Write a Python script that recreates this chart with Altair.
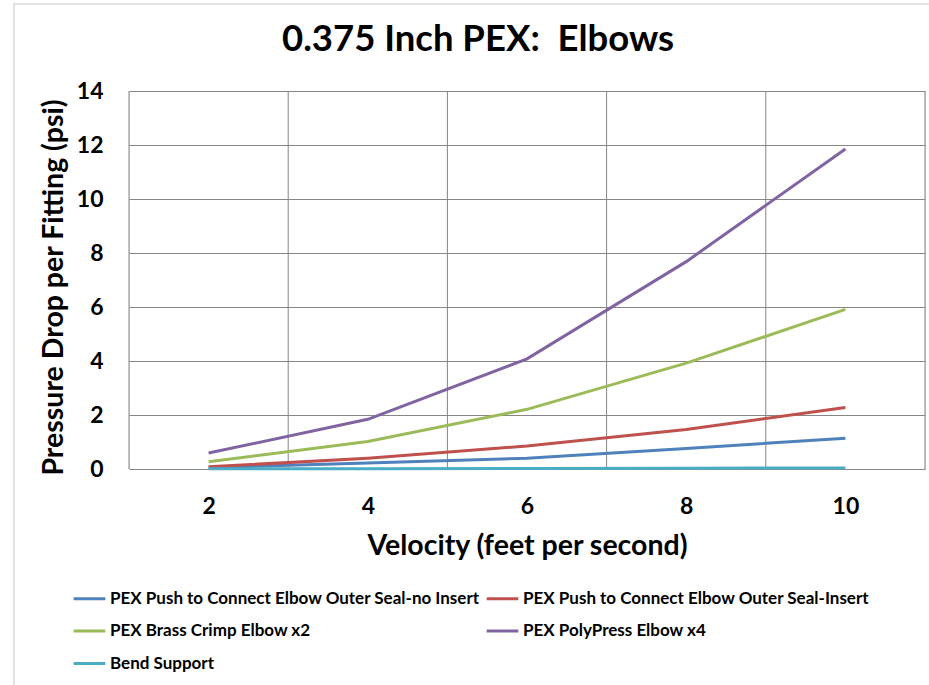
import altair as alt
import pandas as pd

velocity = [2, 4, 6, 8, 10]
series_names = [
    "PEX Push to Connect Elbow Outer Seal-no Insert",
    "PEX Push to Connect Elbow Outer Seal-Insert",
    "PEX Brass Crimp Elbow x2",
    "PEX PolyPress Elbow x4",
    "Bend Support",
]
no_insert = [0.05, 0.22, 0.40, 0.76, 1.14]
with_insert = [0.08, 0.40, 0.85, 1.46, 2.28]
brass_crimp = [0.27, 1.02, 2.21, 3.92, 5.91]
polypress = [0.59, 1.84, 4.08, 7.68, 11.85]
bend_support = [0.01, 0.01, 0.02, 0.03, 0.04]
colors = ["#4F81BD", "#C0504D", "#9BBB59", "#8064A2", "#4BACC6"]
y_ticks = [0, 2, 4, 6, 8, 10, 12, 14]

all_series = [no_insert, with_insert, brass_crimp, polypress, bend_support]
rows = []
for order, (name, vals) in enumerate(zip(series_names, all_series)):
    for v, p in zip(velocity, vals):
        rows.append({"velocity": v, "psi": p, "series": name, "order": order})
df = pd.DataFrame(rows)

# legend is filled column by column: reorder so that it reads row by row
n_cols = 2
n_rows = -(-len(series_names) // n_cols)
legend_order = []
for c in range(n_cols):
    for r in range(n_rows):
        i = r * n_cols + c
        if i < len(series_names):
            legend_order.append(i)
legend_domain = [series_names[i] for i in legend_order]
legend_range = [colors[i] for i in legend_order]

# category boundaries (Excel category axis gridlines between categories)
step = velocity[1] - velocity[0]
bounds = [v - step / 2 for v in velocity] + [velocity[-1] + step / 2]
grid_df = pd.DataFrame({"b": bounds})

FONT = "Lato"
GRID = "#868686"
xscale = alt.Scale(domain=[bounds[0], bounds[-1]], nice=False, zero=False)
xaxis = alt.Axis(
    values=velocity,
    grid=False,
    ticks=False,
    domain=False,
    labelFont=FONT,
    labelFontSize=23,
    labelFontWeight="bold",
    labelColor="black",
    labelPadding=26,
    title="Velocity (feet per second)",
    titleFont=FONT,
    titleFontSize=28.5,
    titleFontWeight="bold",
    titleColor="black",
    titlePadding=13,
)

frame = alt.Chart(pd.DataFrame({"a": [0]})).mark_rect(
    fill=None, stroke="#D9D9D9", strokeWidth=1.5, clip=False
).encode(
    x=alt.value(-115), y=alt.value(-87), x2=alt.value(820), y2=alt.value(620)
)

vgrid = alt.Chart(grid_df).mark_rule(color=GRID, strokeWidth=1).encode(
    x=alt.X("b:Q", scale=xscale, axis=xaxis)
)

lines = alt.Chart(df).mark_line(strokeWidth=3).encode(
    x=alt.X("velocity:Q", scale=xscale, axis=xaxis),
    y=alt.Y(
        "psi:Q",
        scale=alt.Scale(domain=[0, 14], nice=False),
        axis=alt.Axis(
            values=y_ticks,
            grid=True,
            gridColor=GRID,
            gridWidth=1,
            gridOpacity=1,
            ticks=False,
            domain=False,
            labelFont=FONT,
            labelFontSize=23,
            labelFontWeight="bold",
            labelColor="black",
            labelPadding=26,
            title="Pressure Drop per Fitting (psi)",
            titleFont=FONT,
            titleFontSize=28.5,
            titleFontWeight="bold",
            titleColor="black",
            titlePadding=8,
            titleY=196,
        ),
    ),
    color=alt.Color(
        "series:N",
        scale=alt.Scale(domain=legend_domain, range=legend_range),
        sort=legend_domain,
        legend=alt.Legend(
            title=None,
            orient="none",
            legendX=-57,
            legendY=490,
            columns=n_cols,
            columnPadding=0,
            rowPadding=6.5,
            symbolType="stroke",
            symbolSize=1000,
            symbolStrokeWidth=3,
            symbolOffset=0,
            labelFont=FONT,
            labelFontSize=17,
            labelFontWeight="bold",
            labelColor="black",
            labelOffset=3,
            labelLimit=500,
        ),
    ),
    order=alt.Order("order:Q"),
    detail="series:N",
)

chart = alt.layer(frame, vgrid, lines).properties(
    width=796,
    height=378,
    autosize=alt.AutoSizeParams(type="none"),
    padding={"left": 129, "top": 91, "right": 4, "bottom": 216},
    title=alt.TitleParams(
        "0.375 Inch PEX:\u00a0 Elbows",
        anchor="middle",
        font=FONT,
        fontSize=36.5,
        fontWeight="bold",
        color="black",
        dx=-49,
        offset=-55,
    ),
).configure_view(stroke=GRID, strokeWidth=1.5).configure(background="white")

chart.save("out.html", embed_options={"renderer": "svg", "actions": False})
